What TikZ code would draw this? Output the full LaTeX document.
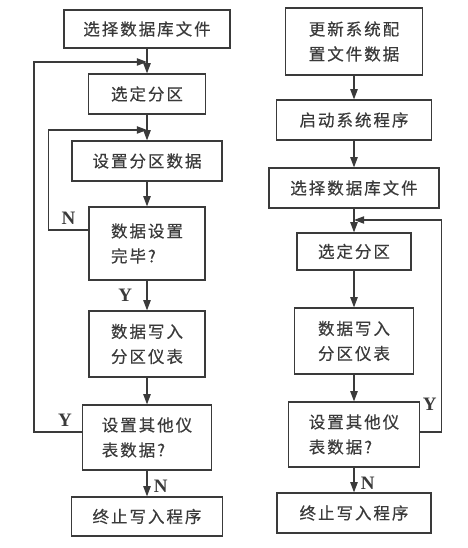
\documentclass[tikz,border=0pt]{standalone}
\usepackage{fontspec}
\setmainfont{Liberation Serif}
\newfontfamily\cjk[LetterSpace=12, FakeBold=0.4]{Noto Sans CJK SC}
\usepackage{tikz}
\usetikzlibrary{arrows.meta, positioning, calc}
\definecolor{ink}{HTML}{3A3A3A}
\tikzset{
  box/.style  = {draw=ink, line width=1.2pt, align=left, text=ink,
                 font=\cjk\fontsize{16.5}{25}\selectfont, inner sep=2pt},
  yn/.style   = {text=ink, font=\fontsize{19}{19}\selectfont\bfseries},
  fl/.style   = {-{Triangle[length=3.6mm, width=2.6mm]}, draw=ink, line width=1.2pt},
  ln/.style   = {draw=ink, line width=1.2pt},
}
\begin{document}
\begin{tikzpicture}[x=1pt, y=1pt]
  \useasboundingbox (0,0) rectangle (467,548);
  % left column
  \node[box, minimum width=166pt, minimum height=38pt] (sel)  at (147,519)   {选择数据库文件};
  \node[box, minimum width=117pt, minimum height=40pt] (part) at (147,454)   {选定分区};
  \node[box, minimum width=150pt, minimum height=40pt] (set)  at (147,387)   {设置分区数据};
  \node[box, minimum width=116pt, minimum height=73pt] (done) at (147,304.5) {数据设置\\完毕?};
  \node[box, minimum width=116pt, minimum height=66pt] (wr)   at (147,204)   {数据写入\\分区仪表};
  \node[box, minimum width=129pt, minimum height=65pt] (oth)  at (147,110.5) {设置其他仪\\表数据?};
  \node[box, minimum width=151pt, minimum height=39pt] (stop) at (147,31.5)  {终止写入程序};
  \coordinate (jA) at (147,486);
  \coordinate (jB) at (147,418);
  \draw[ln] (sel) -- (jA); \draw[fl] (jA) -- (part);
  \draw[ln] (part) -- (jB); \draw[fl] (jB) -- (set);
  \draw[fl] (set) -- (done);
  \draw[fl] (done) -- node[yn, left=11pt]{Y} (wr);
  \draw[fl] (wr) -- (oth);
  \draw[fl] (oth) -- node[yn, right=3pt, yshift=-3pt]{N} (stop);
  \draw[fl] ([yshift=13.5pt]done.west) -- node[yn, above=2pt]{N} ++(-40pt,0) |- (jB);
  \draw[fl] ([yshift=5.5pt]oth.west) -- node[yn, above=2pt, pos=0.35]{Y} ++(-48pt,0) |- (jA);
  % right column
  \node[box, minimum width=137pt, minimum height=67pt] (upd)   at (354,506.5) {更新系统配\\置文件数据};
  \node[box, minimum width=155pt, minimum height=40pt] (boot)  at (354,428)   {启动系统程序};
  \node[box, minimum width=170pt, minimum height=40pt] (sel2)  at (354,360)   {选择数据库文件};
  \node[box, minimum width=114pt, minimum height=37pt] (part2) at (354,296.5) {选定分区};
  \node[box, minimum width=119pt, minimum height=66pt] (wr2)   at (354,207)   {数据写入\\分区仪表};
  \node[box, minimum width=131pt, minimum height=65pt] (oth2)  at (354,113.5) {设置其他仪\\表数据?};
  \node[box, minimum width=154pt, minimum height=40pt] (stop2) at (354,35)    {终止写入程序};
  \coordinate (jC) at (354,328);
  \draw[fl] (upd) -- (boot);
  \draw[fl] (boot) -- (sel2);
  \draw[ln] (sel2) -- (jC); \draw[fl] (jC) -- (part2);
  \draw[fl] (part2) -- (wr2);
  \draw[fl] (wr2) -- (oth2);
  \draw[fl] (oth2) -- node[yn, right=3pt, yshift=-3pt]{N} (stop2);
  \draw[fl] ([yshift=2.5pt]oth2.east) -- ++(21.5pt,0) node[yn, left=1pt, yshift=28pt]{Y} |- (jC);
\end{tikzpicture}
\end{document}
